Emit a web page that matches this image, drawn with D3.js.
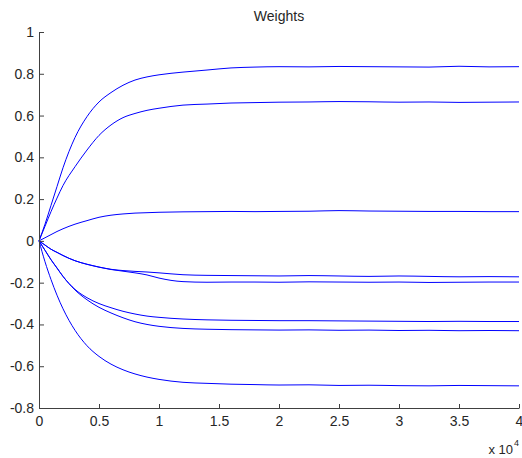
<!DOCTYPE html>
<html>
<head>
<meta charset="utf-8">
<script src="https://cdn.jsdelivr.net/npm/d3@7"></script>
<style>
  body { margin: 0; background: #fff; }
  svg { display: block; font-family: Arial, "Liberation Sans", Helvetica, sans-serif; }
</style>
</head>
<body>
<svg id="chart" width="522" height="458"></svg>
<script>
// iteration (x 10^4)
const xs = [0, 0.05, 0.1, 0.15, 0.2, 0.3, 0.4, 0.5, 0.6, 0.7, 0.8, 0.9, 1.0, 1.2, 1.4, 1.6, 1.8, 2.0, 2.25, 2.5, 2.75, 3.0, 3.25, 3.5, 3.75, 4.0];
const w1 = [0, 0.08, 0.17, 0.26, 0.35, 0.495, 0.595, 0.665, 0.71, 0.745, 0.77, 0.785, 0.795, 0.808, 0.818, 0.828, 0.832, 0.834, 0.833, 0.835, 0.834, 0.833, 0.832, 0.836, 0.833, 0.834];
const w2 = [0, 0.07, 0.14, 0.205, 0.265, 0.355, 0.435, 0.505, 0.555, 0.59, 0.61, 0.625, 0.635, 0.65, 0.655, 0.66, 0.662, 0.664, 0.665, 0.667, 0.666, 0.664, 0.665, 0.663, 0.664, 0.665];
const w3 = [0, 0.015, 0.03, 0.045, 0.058, 0.08, 0.097, 0.113, 0.123, 0.129, 0.133, 0.135, 0.137, 0.139, 0.14, 0.141, 0.14, 0.141, 0.142, 0.145, 0.143, 0.142, 0.141, 0.141, 0.14, 0.14];
const w4 = [0, -0.02, -0.04, -0.055, -0.07, -0.095, -0.112, -0.125, -0.136, -0.142, -0.146, -0.149, -0.153, -0.162, -0.165, -0.166, -0.167, -0.168, -0.166, -0.168, -0.17, -0.168, -0.17, -0.172, -0.171, -0.172];
const w5 = [0, -0.02, -0.04, -0.055, -0.07, -0.095, -0.112, -0.126, -0.137, -0.145, -0.153, -0.163, -0.178, -0.195, -0.198, -0.197, -0.197, -0.198, -0.196, -0.197, -0.198, -0.197, -0.199, -0.198, -0.197, -0.197];
const w6 = [0, -0.045, -0.09, -0.13, -0.17, -0.232, -0.272, -0.3, -0.32, -0.337, -0.35, -0.36, -0.366, -0.374, -0.378, -0.38, -0.381, -0.382, -0.382, -0.383, -0.384, -0.385, -0.386, -0.385, -0.386, -0.386];
const w7 = [0, -0.045, -0.09, -0.13, -0.17, -0.235, -0.282, -0.318, -0.345, -0.368, -0.387, -0.4, -0.409, -0.419, -0.423, -0.425, -0.426, -0.427, -0.426, -0.428, -0.427, -0.429, -0.428, -0.43, -0.429, -0.43];
const w8 = [0, -0.1, -0.185, -0.26, -0.325, -0.428, -0.502, -0.553, -0.59, -0.617, -0.637, -0.652, -0.663, -0.677, -0.682, -0.686, -0.688, -0.69, -0.689, -0.692, -0.691, -0.693, -0.694, -0.692, -0.693, -0.694];
const seriesList = [w1, w2, w3, w4, w5, w6, w7, w8];
const xTicks = [0, 0.5, 1, 1.5, 2, 2.5, 3, 3.5, 4];
const yTicks = [-0.8, -0.6, -0.4, -0.2, 0, 0.2, 0.4, 0.6, 0.8, 1];
const titleText = "Weights";

const svg = d3.select("#chart");
const mLeft = 39, mRight = 519, mTop = 32, mBottom = 408;
const x = d3.scaleLinear().domain([0, 4]).range([mLeft, mRight]);
const y = d3.scaleLinear().domain([-0.8, 1]).range([mBottom, mTop]);
const fmt = d => String(+d.toFixed(1));
const textColor = "#262626";
const axisColor = "#404040";

const line = d3.line().x((d, i) => x(xs[i])).y(d => y(d)).curve(d3.curveMonotoneX);
svg.append("g").selectAll("path").data(seriesList).join("path")
  .attr("d", d => line(d))
  .attr("fill", "none").attr("stroke", "#0000ff").attr("stroke-width", 1);

const gx = svg.append("g").attr("transform", `translate(0,${mBottom})`)
  .call(d3.axisBottom(x).tickValues(xTicks).tickFormat(fmt).tickSize(-4).tickSizeOuter(0).tickPadding(8));
const gy = svg.append("g").attr("transform", `translate(${mLeft},0)`)
  .call(d3.axisLeft(y).tickValues(yTicks).tickFormat(fmt).tickSize(-5).tickSizeOuter(0).tickPadding(5));
[gx, gy].forEach(g => {
  g.select(".domain").attr("stroke", axisColor);
  g.selectAll(".tick line").attr("stroke", axisColor);
  g.selectAll(".tick text").attr("fill", textColor).attr("font-size", 14).attr("font-family", "Arial, 'Liberation Sans', sans-serif");
});

svg.append("text").attr("x", (mLeft + mRight) / 2).attr("y", 21).attr("text-anchor", "middle")
  .attr("font-size", 14).attr("fill", textColor).text(titleText);

svg.append("text").attr("x", 513).attr("y", 454).attr("text-anchor", "end")
  .attr("font-size", 13).attr("fill", textColor).text("x 10");
svg.append("text").attr("x", 514).attr("y", 446).attr("font-size", 9).attr("fill", textColor).text("4");
</script>
</body>
</html>
